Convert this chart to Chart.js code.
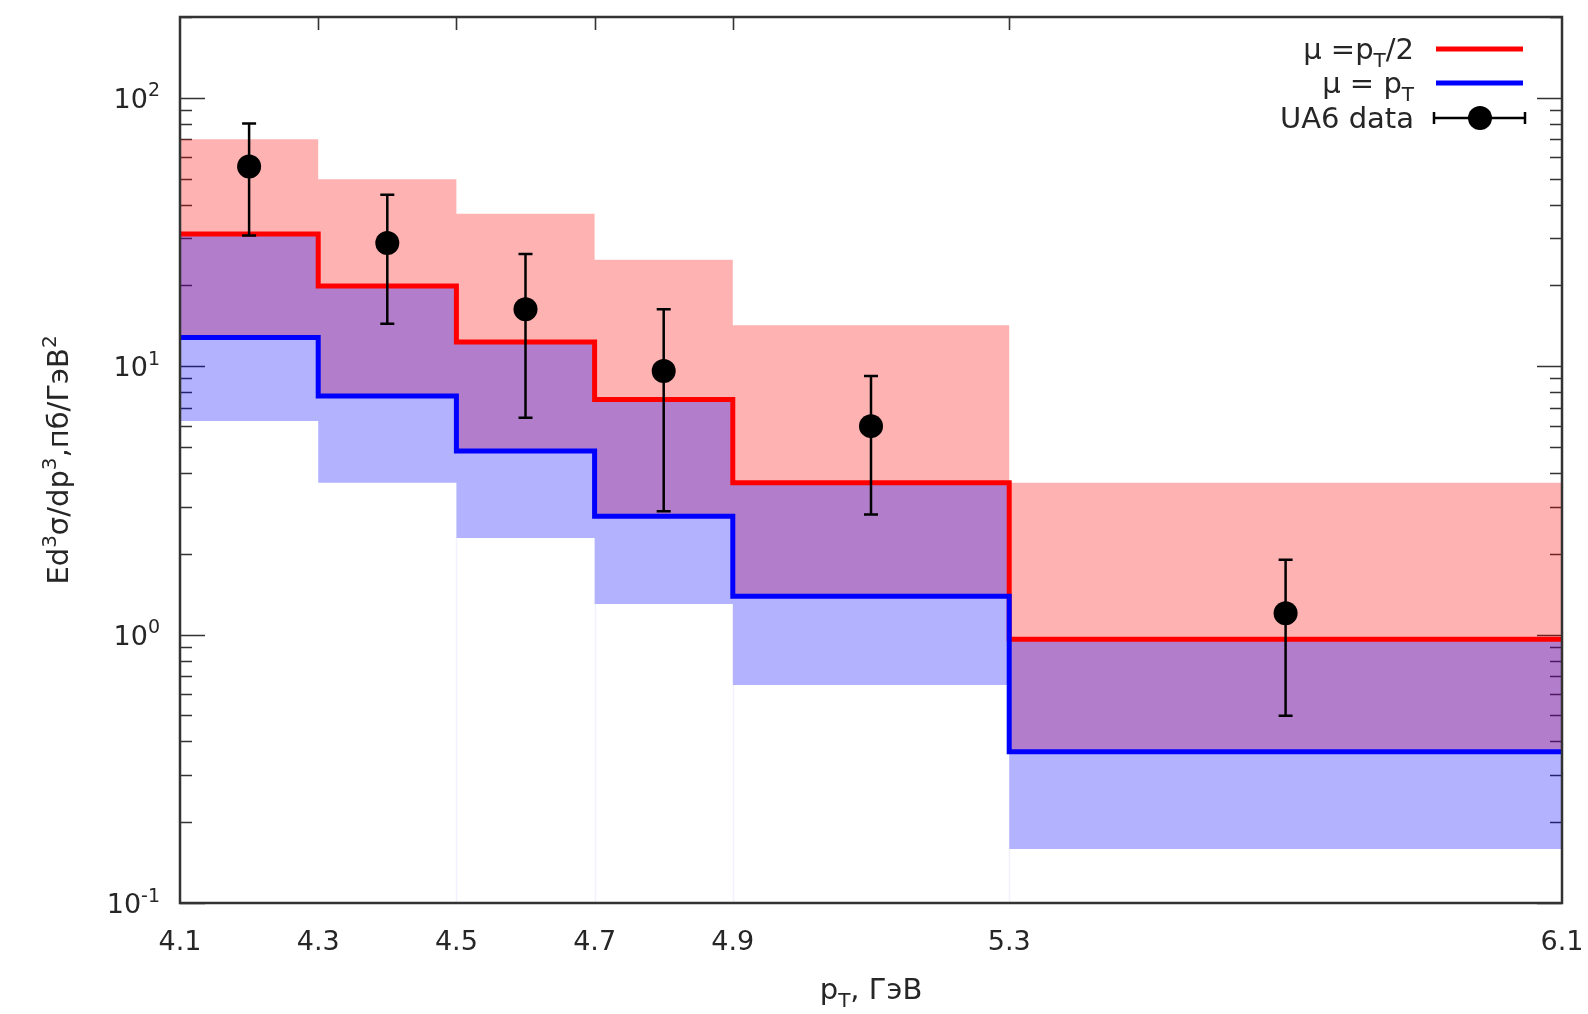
<!DOCTYPE html>
<html>
<head>
<meta charset="utf-8">
<title>Ed3σ/dp3 vs pT</title>
<script src="https://cdn.jsdelivr.net/npm/chart.js@4.4.1/dist/chart.umd.min.js"></script>
<style>
  html, body { margin: 0; padding: 0; background: #ffffff; }
  #wrap { width: 1588px; height: 1014px; position: relative; }
</style>
</head>
<body>
<div id="wrap"><canvas id="c" width="1588" height="1014"></canvas></div>
<script>
// pT bin edges, GeV
const binEdges = [4.1, 4.3, 4.5, 4.7, 4.9, 5.3, 6.1];

// NLO predictions per bin, mu = pT/2 (central and upper edge of band)
const halfScaleCentral = [31.1, 19.9, 12.3, 7.52, 3.68, 0.96];
const halfScaleUpper   = [70.0, 49.7, 37.0, 24.9, 14.2, 3.68];

// NLO predictions per bin, mu = pT (central and lower edge of band)
const fullScaleCentral = [12.8, 7.74, 4.83, 2.76, 1.39, 0.366];
const fullScaleLower   = [6.25, 3.68, 2.29, 1.30, 0.649, 0.159];

// UA6 measurements
const dataPt    = [4.2, 4.4, 4.6, 4.8, 5.1, 5.7];
const dataValue = [55.5, 28.8, 16.3, 9.6, 5.98, 1.20];
const dataHigh  = [80.2, 43.5, 26.2, 16.3, 9.2, 1.90];
const dataLow   = [30.7, 14.4, 6.43, 2.88, 2.80, 0.498];

// axis ticks
const xTickValues = [4.1, 4.3, 4.5, 4.7, 4.9, 5.3, 6.1];
const yTickValues = [0.1, 1, 10, 100];
const yTickExponents = ['-1', '0', '1', '2'];

const FONT = '"DejaVu Sans", "Liberation Sans", sans-serif';
const TEXT = '#262626';

function stepPoints(vals) {
  const pts = vals.map((v, i) => ({ x: binEdges[i], y: v }));
  pts.push({ x: binEdges[binEdges.length - 1], y: vals[vals.length - 1] });
  return pts;
}

// text with sub/superscript runs
function drawRich(ctx, parts, x, y, align, size) {
  const small = Math.round(size * 0.7);
  let total = 0;
  parts.forEach(p => {
    ctx.font = (p.sub || p.sup ? small : size) + 'px ' + FONT;
    p.w = ctx.measureText(p.t).width;
    total += p.w;
  });
  let cx = align === 'right' ? x - total : align === 'center' ? x - total / 2 : x;
  ctx.textAlign = 'left';
  ctx.textBaseline = 'alphabetic';
  parts.forEach(p => {
    ctx.font = (p.sub || p.sup ? small : size) + 'px ' + FONT;
    let dy = 0;
    if (p.sub) dy = size * 0.28;
    if (p.sup) dy = -size * 0.42;
    ctx.fillText(p.t, cx, y + dy);
    cx += p.w;
  });
}

const decor = {
  id: 'decor',
  beforeDatasetsDraw(chart) {
    const { ctx, chartArea: a, scales: { x, y } } = chart;
    ctx.save();
    // faint seams below the bands at bin edges
    ctx.strokeStyle = 'rgba(60,60,255,0.07)';
    ctx.lineWidth = 1.5;
    for (let i = 2; i < binEdges.length - 1; i++) {
      const px = Math.round(x.getPixelForValue(binEdges[i])) + 0.5;
      const low = Math.min(fullScaleLower[i - 1], fullScaleLower[i]);
      ctx.beginPath();
      ctx.moveTo(px, y.getPixelForValue(low));
      ctx.lineTo(px, a.bottom);
      ctx.stroke();
    }
    // inward tick marks
    ctx.strokeStyle = '#333';
    ctx.lineWidth = 1.6;
    ctx.beginPath();
    for (let d = -1; d <= 2; d++) {
      for (let m = 1; m <= 9; m++) {
        const v = m * Math.pow(10, d);
        if (v < 0.1 || v > 200) continue;
        const py = Math.round(y.getPixelForValue(v)) + 0.5;
        const len = m === 1 ? 25 : 12;
        ctx.moveTo(a.left, py); ctx.lineTo(a.left + len, py);
        ctx.moveTo(a.right, py); ctx.lineTo(a.right - len, py);
      }
    }
    xTickValues.forEach(v => {
      if (v <= 4.1 || v >= 6.1) return;
      const px = Math.round(x.getPixelForValue(v)) + 0.5;
      ctx.moveTo(px, a.top); ctx.lineTo(px, a.top + 13);
    });
    ctx.stroke();

    // decade labels of the logarithmic axis
    ctx.fillStyle = TEXT;
    yTickValues.forEach((v, i) => {
      const py = y.getPixelForValue(v);
      drawRich(ctx, [{ t: '10' }, { t: yTickExponents[i], sup: true }], a.left - 20, py + 10, 'right', 27);
    });
    ctx.restore();
  },
  beforeDatasetDraw(chart, args) {
    if (chart.data.datasets[args.index].label !== 'UA6 data') return;
    const { ctx, scales: { x, y } } = chart;
    ctx.save();
    ctx.strokeStyle = '#000';
    ctx.lineWidth = 2.5;
    ctx.beginPath();
    dataPt.forEach((pt, i) => {
      const px = x.getPixelForValue(pt);
      const hi = y.getPixelForValue(dataHigh[i]);
      const lo = y.getPixelForValue(dataLow[i]);
      ctx.moveTo(px, hi); ctx.lineTo(px, lo);
      ctx.moveTo(px - 7, hi); ctx.lineTo(px + 7, hi);
      ctx.moveTo(px - 7, lo); ctx.lineTo(px + 7, lo);
    });
    ctx.stroke();
    ctx.restore();
  },
  afterDatasetsDraw(chart) {
    const { ctx, chartArea: a } = chart;
    ctx.save();
    // frame
    ctx.strokeStyle = '#333';
    ctx.lineWidth = 2.5;
    ctx.strokeRect(a.left, a.top, a.right - a.left, a.bottom - a.top);

    // legend
    ctx.fillStyle = TEXT;
    const tx = 1414, sx0 = 1436, sx1 = 1523;
    drawRich(ctx, [{ t: '\u03BC =p' }, { t: 'T', sub: true }, { t: '/2' }], tx, 59, 'right', 29);
    drawRich(ctx, [{ t: '\u03BC = p' }, { t: 'T', sub: true }], tx, 93, 'right', 29);
    drawRich(ctx, [{ t: 'UA6 data' }], tx, 128, 'right', 29);
    ctx.lineWidth = 5;
    ctx.lineCap = 'butt';
    ctx.strokeStyle = '#ff0000';
    ctx.beginPath(); ctx.moveTo(sx0, 49); ctx.lineTo(sx1, 49); ctx.stroke();
    ctx.strokeStyle = '#0000ff';
    ctx.beginPath(); ctx.moveTo(sx0, 83); ctx.lineTo(sx1, 83); ctx.stroke();
    ctx.strokeStyle = '#000';
    ctx.lineWidth = 2.5;
    ctx.beginPath();
    ctx.moveTo(sx0 - 2, 118); ctx.lineTo(sx1 + 2, 118);
    ctx.moveTo(sx0 - 2, 112); ctx.lineTo(sx0 - 2, 124);
    ctx.moveTo(sx1 + 2, 112); ctx.lineTo(sx1 + 2, 124);
    ctx.stroke();
    ctx.fillStyle = '#000';
    ctx.beginPath(); ctx.arc(1480, 118, 12, 0, Math.PI * 2); ctx.fill();

    // axis titles
    ctx.fillStyle = TEXT;
    drawRich(ctx, [{ t: 'p' }, { t: 'T', sub: true }, { t: ', \u0413\u044D\u0412' }], (a.left + a.right) / 2, 999, 'center', 29);
    ctx.translate(68, (a.top + a.bottom) / 2);
    ctx.rotate(-Math.PI / 2);
    drawRich(ctx, [
      { t: 'Ed' }, { t: '3', sup: true }, { t: '\u03C3/dp' }, { t: '3', sup: true },
      { t: ',\u043F\u0431/\u0413\u044D\u0412' }, { t: '2', sup: true }
    ], 0, 0, 'center', 29);
    ctx.restore();
  }
};

const lineBase = { pointRadius: 0, pointHoverRadius: 0, stepped: 'before', tension: 0, borderCapStyle: 'butt', borderJoinStyle: 'miter' };

new Chart(document.getElementById('c'), {
  type: 'line',
  data: {
    datasets: [
      // 0: mu = pT/2 band, upper edge, filled down to dataset 1
      Object.assign({ label: 'band-half-upper', data: stepPoints(halfScaleUpper), borderWidth: 0, borderColor: 'rgba(0,0,0,0)',
        backgroundColor: 'rgba(255,0,0,0.30)', fill: 1, order: 10 }, lineBase),
      // 1: lower edge of the mu = pT/2 band
      Object.assign({ label: 'band-half-lower', data: stepPoints(fullScaleCentral), borderWidth: 0, borderColor: 'rgba(0,0,0,0)',
        fill: false, order: 10 }, lineBase),
      // 2: mu = pT band, upper edge, filled down to dataset 3
      Object.assign({ label: 'band-full-upper', data: stepPoints(halfScaleCentral), borderWidth: 0, borderColor: 'rgba(0,0,0,0)',
        backgroundColor: 'rgba(0,0,255,0.30)', fill: 3, order: 9 }, lineBase),
      // 3: lower edge of the mu = pT band
      Object.assign({ label: 'band-full-lower', data: stepPoints(fullScaleLower), borderWidth: 0, borderColor: 'rgba(0,0,0,0)',
        fill: false, order: 9 }, lineBase),
      // 4: mu = pT/2 central
      Object.assign({ label: '\u03BC =pT/2', data: stepPoints(halfScaleCentral), borderWidth: 5, borderColor: '#ff0000',
        fill: false, order: 5 }, lineBase),
      // 5: mu = pT central
      Object.assign({ label: '\u03BC = pT', data: stepPoints(fullScaleCentral), borderWidth: 5, borderColor: '#0000ff',
        fill: false, order: 4 }, lineBase),
      // 6: UA6 data points
      { label: 'UA6 data', data: dataPt.map((p, i) => ({ x: p, y: dataValue[i] })), showLine: false,
        pointRadius: 12, pointHoverRadius: 12, pointBackgroundColor: '#000', pointBorderColor: '#000', pointBorderWidth: 0,
        fill: false, order: 1 }
    ]
  },
  options: {
    responsive: false,
    animation: false,
    events: [],
    layout: { autoPadding: false, padding: { top: 17, right: 26, left: 0, bottom: 0 } },
    plugins: { legend: { display: false }, tooltip: { enabled: false }, filler: { propagate: false } },
    scales: {
      x: {
        type: 'linear', min: 4.1, max: 6.1,
        grid: { display: false, drawTicks: false }, border: { display: false },
        afterBuildTicks: s => { s.ticks = xTickValues.map(v => ({ value: v })); },
        afterFit: s => { s.height = 111; s.paddingLeft = 0; s.paddingRight = 0; },
        ticks: { autoSkip: false, maxRotation: 0, padding: 24, color: TEXT, font: { family: FONT, size: 27 },
          callback: v => v.toFixed(1) }
      },
      y: {
        type: 'logarithmic', min: 0.1, max: 200,
        grid: { display: false, drawTicks: false }, border: { display: false },
        afterBuildTicks: s => { s.ticks = yTickValues.map(v => ({ value: v })); },
        afterFit: s => { s.width = 180; s.paddingTop = 0; s.paddingBottom = 0; },
        ticks: { display: false }
      }
    }
  },
  plugins: [decor]
});
</script>
</body>
</html>
